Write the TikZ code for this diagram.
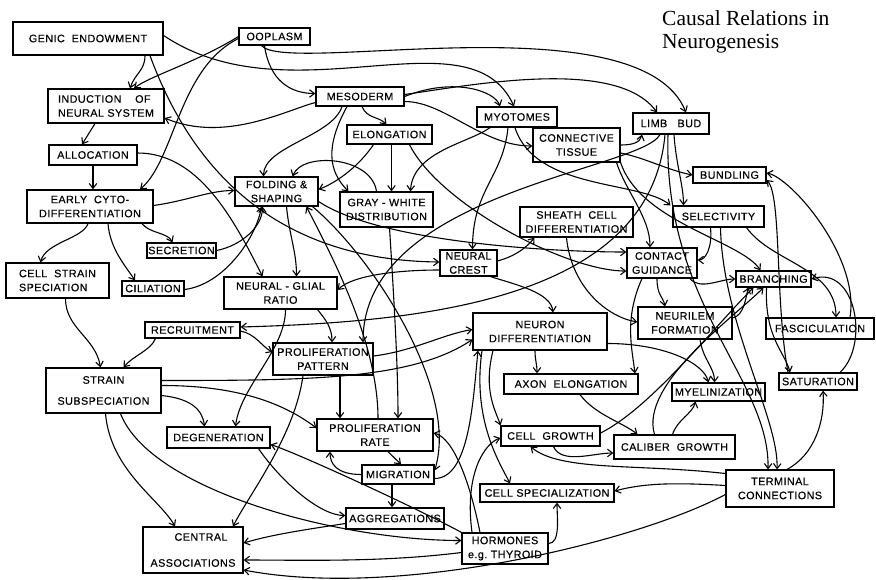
\documentclass[tikz,border=0pt]{standalone}
\usepackage{fontspec}
\usetikzlibrary{arrows.meta}
\newfontfamily\boxfont[LetterSpace=4,FakeBold=0.4]{Liberation Sans}
\newfontfamily\ttlfont{Liberation Serif}
\begin{document}
\begin{tikzpicture}[x=1pt,y=-1pt,
  bx/.style={draw,line width=1.2pt,inner sep=1pt,align=center,
    font=\boxfont\fontsize{10.8}{14}\selectfont},
  ar/.style={line width=1.1pt,-{Straight Barb[length=5pt,width=7.5pt]}},
  ttl/.style={anchor=base west,inner sep=0pt,font=\ttlfont\fontsize{21.5}{24}\selectfont}]
\useasboundingbox (0,0) rectangle (876,579);
% title
\node[ttl] (t1) at (662,25) {Causal Relations in};
\node[ttl] (t2) at (662,48) {Neurogenesis};
% nodes
\node[bx,minimum width=150,minimum height=33] (ge) at (88,38.5) {GENIC\ \ ENDOWMENT};
\node[bx,minimum width=71,minimum height=17] (oop) at (274.5,36.5) {OOPLASM};
\node[bx,minimum width=116,minimum height=34,align=left] (ind) at (106,106) {INDUCTION\ \ \ \ OF\\NEURAL SYSTEM};
\node[bx,minimum width=88,minimum height=20] (alloc) at (93,155) {ALLOCATION};
\node[bx,minimum width=126,minimum height=33] (ecd) at (90,206.5) {EARLY\ \ CYTO-\\DIFFERENTIATION};
\node[bx,minimum width=83,minimum height=29] (fold) at (276.5,191.5) {FOLDING \&\\SHAPING};
\node[bx,minimum width=88,minimum height=19] (meso) at (360,96.5) {MESODERM};
\node[bx,minimum width=85,minimum height=19] (elong) at (389.5,134.5) {ELONGATION};
\node[bx,minimum width=80,minimum height=20] (myo) at (517,117) {MYOTOMES};
\node[bx,minimum width=87,minimum height=34] (ct) at (576.5,145) {CONNECTIVE\\TISSUE};
\node[bx,minimum width=76,minimum height=21] (limb) at (671,123.5) {LIMB\ \ \ BUD};
\node[bx,minimum width=73,minimum height=16] (bund) at (729.5,175) {BUNDLING};
\node[bx,minimum width=93,minimum height=35] (gw) at (386.5,209.5) {GRAY - WHITE\\DISTRIBUTION};
\node[bx,minimum width=113,minimum height=30] (sheath) at (576.5,222) {SHEATH\ \ CELL\\DIFFERENTIATION};
\node[bx,minimum width=91,minimum height=21] (sel) at (718.5,216.5) {SELECTIVITY};
\node[bx,minimum width=69,minimum height=15] (secr) at (181.5,250.5) {SECRETION};
\node[bx,minimum width=103,minimum height=35,align=left] (css) at (57.5,280.5) {CELL\ \ STRAIN\\SPECIATION};
\node[bx,minimum width=62,minimum height=15] (cil) at (153,288.5) {CILIATION};
\node[bx,minimum width=57,minimum height=26] (nc) at (468.5,263) {NEURAL\\CREST};
\node[bx,minimum width=70,minimum height=30] (cg) at (662,263) {CONTACT\\GUIDANCE};
\node[bx,minimum width=75,minimum height=16] (branch) at (773.5,279) {BRANCHING};
\node[bx,minimum width=113,minimum height=32] (ngr) at (280.5,293) {NEURAL - GLIAL\\RATIO};
\node[bx,minimum width=95,minimum height=16] (recr) at (192.5,330) {RECRUITMENT};
\node[bx,minimum width=100,minimum height=32] (pp) at (323,359) {PROLIFERATION\\PATTERN};
\node[bx,minimum width=134,minimum height=37] (nd) at (540,331.5) {NEURON\\DIFFERENTIATION};
\node[bx,minimum width=94,minimum height=32] (neuril) at (685,323) {NEURILEM\\FORMATION};
\node[bx,minimum width=108,minimum height=21] (fasc) at (820,328.5) {FASCICULATION};
\node[bx,minimum width=115,minimum height=45,font=\boxfont\fontsize{10.8}{21}\selectfont] (ss) at (103.5,390.5) {STRAIN\\SUBSPECIATION};
\node[bx,minimum width=134,minimum height=20] (axon) at (571,384) {AXON\ \ ELONGATION};
\node[bx,minimum width=93,minimum height=18] (myel) at (718.5,392) {MYELINIZATION};
\node[bx,minimum width=78,minimum height=17] (sat) at (818,381.5) {SATURATION};
\node[bx,minimum width=103,minimum height=21] (degen) at (218.5,437.5) {DEGENERATION};
\node[bx,minimum width=116,minimum height=32] (pr) at (375,435) {PROLIFERATION\\RATE};
\node[bx,minimum width=99,minimum height=20] (cgro) at (550.5,436) {CELL\ \ GROWTH};
\node[bx,minimum width=121,minimum height=24] (calib) at (674.5,447) {CALIBER\ \ GROWTH};
\node[bx,minimum width=72,minimum height=19] (migr) at (398,474.5) {MIGRATION};
\node[bx,minimum width=134,minimum height=18] (cspec) at (547,493) {CELL\ SPECIALIZATION};
\node[bx,minimum width=108,minimum height=37] (tc) at (780,488.5) {TERMINAL\\CONNECTIONS};
\node[bx,minimum width=98,minimum height=21] (aggr) at (395,518.5) {AGGREGATIONS};
\node[bx,minimum width=100,minimum height=46,align=left,font=\boxfont\fontsize{10.8}{26}\selectfont] (central) at (193,550) {\ \ \ \ \ \ \ CENTRAL\\ASSOCIATIONS};
\node[bx,minimum width=86,minimum height=31] (horm) at (505,548.5) {HORMONES\\e.g.\ THYROID};
% connectors
\draw[ar] ([xshift=57]ge.south) .. controls +(0,15) and +(5,-15) .. ([xshift=24]ind.north);
\draw[ar] (oop.west) .. controls +(-40,25) and +(15,-12) .. ([xshift=28]ind.north);
\draw[ar] ([yshift=-2]oop.west) .. controls +(-60,30) and +(35,-30) .. ([xshift=50]ecd.north);
\draw[ar] ([xshift=-10]oop.south) .. controls +(5,35) and +(-25,0) .. ([yshift=3]meso.west);
\draw[ar] ([yshift=3]ge.east) .. controls +(127,85) and +(-44,-97) .. ([xshift=-3]myo.north);
\draw[ar] ([xshift=-13]oop.south) .. controls +(25,30) and +(-46,-113) .. ([xshift=15]limb.north);
\draw[ar] ([yshift=2]meso.east) .. controls +(70,-10) and +(-40,-55) .. ([xshift=-14]limb.north);
\draw[ar] (meso.east) .. controls +(50,-20) and +(-5,-15) .. ([xshift=-17]myo.north);
\draw[ar] ([yshift=-5]meso.east) .. controls +(40,0) and +(-50,0) .. ([yshift=-1]ct.west);
\draw[ar] ([xshift=2]meso.south) .. controls +(5,12) and +(-8,-8) .. ([xshift=-3]elong.north);
\draw[ar] ([xshift=-18]meso.south) .. controls +(-10,30) and +(0,-30) .. ([xshift=-13]fold.north);
\draw[ar] ([xshift=-13]meso.south) .. controls +(-22,40) and +(-20,-20) .. ([xshift=-38]gw.north);
\draw[ar,{Straight Barb[length=5pt,width=7.5pt]}-] ([yshift=-12]ind.east) .. controls +(60,25) and +(-30,8) .. ([yshift=-6]meso.west);
\draw[ar] ([xshift=-11]ind.south) -- ([xshift=-11]alloc.north |- alloc.north);
\draw[ar] (alloc.south) -- ([xshift=3]ecd.north);
\draw[ar] ([yshift=2]alloc.east) .. controls +(60,0) and +(-30,-60) .. ([xshift=-18]ngr.north);
\draw[ar] ([yshift=1]ecd.east) .. controls +(35,-5) and +(-25,0) .. ([yshift=1]fold.west);
\draw[ar] ([xshift=-2]ecd.south) .. controls +(-5,15) and +(5,-20) .. ([xshift=-17]css.north);
\draw[ar] ([xshift=18]ecd.south) .. controls +(2,25) and +(-10,-15) .. ([xshift=-18]cil.north);
\draw[ar] ([xshift=52]ecd.south) .. controls +(8,10) and +(-5,-10) .. ([xshift=-9]secr.north);
\draw[ar] (secr.east) .. controls +(25,-5) and +(0,20) .. ([xshift=-14]fold.south);
\draw[ar] ([yshift=-1]cil.east) .. controls +(40,-5) and +(-5,30) .. ([xshift=-15]fold.south);
\draw[ar] ([xshift=8]css.south) .. controls +(0,30) and +(-5,-30) .. ([xshift=-3]ss.north);
\draw[ar] ([xshift=-37]recr.south) .. controls +(-5,12) and +(10,-12) .. ([xshift=20]ss.north);
\draw[ar] ([yshift=-1]recr.east) .. controls +(15,3) and +(-10,-5) .. ([yshift=7]pp.west);
\draw[ar] ([xshift=10]fold.south) .. controls +(3,30) and +(0,-25) .. ([xshift=16]ngr.north);
\draw[ar] ([xshift=37]ngr.south) .. controls +(8,10) and +(0,-15) .. ([xshift=9]pp.north);
\draw[ar] ([yshift=-7]nc.west) .. controls +(-40,0) and +(15,-15) .. ([yshift=3]ngr.east);
\draw[ar] ([xshift=62]ge.south) .. controls +(35,95) and +(-180,-2) .. ([yshift=1]nc.west);
\draw[ar] ([xshift=22]nc.south) .. controls +(25,8) and +(-2,-20) .. ([xshift=13]nd.north);
\draw[ar] ([yshift=2]nc.east) .. controls +(18,-5) and +(-8,10) .. ([xshift=-42]sheath.south);
\draw[ar] ([xshift=-9]myo.south) .. controls +(-5,50) and +(0,-60) .. ([xshift=4]nc.north);
\draw[ar] ([xshift=2]elong.south) .. controls +(0,15) and +(0,-20) .. ([xshift=5]gw.north);
\draw[ar] ([xshift=-27]myo.south) .. controls +(-20,15) and +(2,-40) .. ([xshift=24]gw.north);
\draw[ar] ([xshift=-16]elong.south) .. controls +(-10,15) and +(25,-10) .. ([yshift=2]fold.east);
\draw[ar] ([xshift=-10]gw.north) .. controls +(-5,-35) and +(10,-25) .. ([xshift=16]fold.north);
\draw[ar] ([xshift=20]elong.south) .. controls +(30,60) and +(-60,0) .. ([yshift=-8]cg.west);
\draw[ar] ([yshift=-10]fold.east) .. controls +(60,40) and +(-80,0) .. ([yshift=11]cg.west);
\draw[ar] (ct.east) .. controls +(12,0) and +(-2,8) .. ([xshift=-29]limb.south);
\draw[ar] ([yshift=-8]ct.east) .. controls +(25,5) and +(-25,-5) .. (bund.west);
\draw[ar] ([xshift=40]ct.south) .. controls +(10,30) and +(0,-30) .. ([xshift=-12]cg.north);
\draw[ar] ([xshift=-11]limb.south) .. controls +(-20,36) and +(0,-150) .. ([xshift=40]pp.north);
\draw[ar] ([xshift=-6]limb.south) .. controls +(-15,166) and +(180,-5) .. ([yshift=3]recr.east);
\draw[ar] ([yshift=3]pp.east) .. controls +(40,-5) and +(-30,5) .. ([yshift=2]nd.west);
\draw[ar] ([yshift=10]ss.east) .. controls +(150,0) and +(-60,40) .. ([yshift=-8]nd.west);
\draw[ar] ([xshift=17]pp.south) .. controls +(0,15) and +(0,-15) .. ([xshift=-35]pr.north);
\draw[ar] ([xshift=-20]pp.south) .. controls +(-8,60) and +(15,-30) .. ([xshift=40]central.north);
\draw[ar] ([xshift=3]gw.south) .. controls +(5,80) and +(0,-50) .. ([xshift=23]pr.north);
\draw[ar] ([xshift=36]fold.south) .. controls +(60,50) and +(25,-80) .. ([yshift=4]migr.east);
\draw[ar] ([xshift=3]pr.north) .. controls +(0,-80) and +(20,40) .. ([xshift=30]fold.south);
\draw[ar] ([xshift=13]pr.south) -- ([xshift=3]migr.north);
\draw[ar] (migr.west) .. controls +(-25,0) and +(0,12) .. ([xshift=-45]pr.south);
\draw[ar] ([xshift=-6]migr.south) .. controls +(0,10) and +(0,-10) .. ([xshift=-3]aggr.north);
\draw[ar] ([yshift=-4]migr.east) .. controls +(35,0) and +(-5,50) .. ([xshift=-62]nd.south);
\draw[ar] ([xshift=-25]horm.north) .. controls +(-10,-50) and +(20,5) .. ([yshift=2]pr.east);
\draw[ar] ([xshift=-33]horm.north) .. controls +(-8,-60) and +(-15,5) .. ([yshift=-2]cgro.west);
\draw[ar] ([yshift=5]horm.east) .. controls +(12,0) and +(0,15) .. ([xshift=10]cspec.south);
\draw[ar] ([yshift=-4]horm.west) .. controls +(-80,10) and +(60,0) .. ([yshift=-10]central.east);
\draw[ar] ([yshift=-6]tc.west) .. controls +(-86,46) and +(157,30) .. ([yshift=-20]central.east);
\draw[ar] ([yshift=-5]aggr.west) .. controls +(-46,7) and +(27,-8) .. ([yshift=7]central.east);
\draw[ar] ([xshift=2]ss.south) .. controls +(5,57) and +(-15,-27) .. ([xshift=-18]central.north);
\draw[ar] ([xshift=17]ss.south) .. controls +(30,77) and +(-122,0) .. ([yshift=8]horm.west);
\draw[ar] ([yshift=-5]ss.east) .. controls +(29,3) and +(-2,-17) .. ([xshift=-14]degen.north);
\draw[ar] ([yshift=5]ss.east) .. controls +(69,0) and +(-37,-28) .. ([yshift=7]pr.west);
\draw[ar] ([xshift=40]degen.south) .. controls +(22,32) and +(-26,0) .. ([yshift=3]aggr.west);
\draw[ar] (horm.north west) .. controls +(-42,-23) and +(30,10) .. ([yshift=-7]degen.east);
\draw[ar] ([xshift=5]ngr.south) .. controls +(0,40) and +(5,-40) .. ([xshift=17]degen.north);
\draw[ar] ([xshift=-8]sel.south) .. controls +(2,20) and +(8,0) .. ([yshift=3]cg.east);
\draw[ar] ([xshift=2]sel.south) .. controls +(2,95) and +(2,-50) .. ([xshift=-3]tc.north);
\draw[ar] ([xshift=3]limb.south) .. controls +(2,30) and +(0,-20) .. ([xshift=-35]sel.north);
\draw[ar] ([xshift=-3]limb.south) .. controls +(-5,170) and +(2,-90) .. ([xshift=-12]tc.north);
\draw[ar] ([xshift=28]sel.south) .. controls +(25,35) and +(0,-50) .. ([xshift=16]fasc.north);
\draw[ar] ([xshift=30]fasc.north) .. controls +(10,-60) and +(25,5) .. ([yshift=2]bund.east);
\draw[ar] ([xshift=-30]sat.north) .. controls +(-13,-70) and +(15,15) .. ([yshift=-5]bund.east);
\draw[ar] ([xshift=-7]branch.south) .. controls +(-2,50) and +(-5,-20) .. ([xshift=-28]sat.north);
\draw[ar] ([xshift=22]sat.north) .. controls +(30,-28) and +(44,-14) .. (branch.east);
\draw[ar] ([xshift=7]tc.north) .. controls +(28,-15) and +(2,30) .. ([xshift=5]sat.south);
\draw[ar] ([yshift=3]tc.west) .. controls +(-50,-3) and +(30,-8) .. ([yshift=2]cspec.east);
\draw[ar] ([yshift=15]tc.west) .. controls +(-90,-10) and +(30,25) .. ([xshift=-20]cgro.south);
\draw[ar] ([xshift=3]cgro.south) .. controls +(8,18) and +(-20,0) .. ([yshift=-6]calib.west);
\draw[ar] ([xshift=-2]calib.north) .. controls +(5,-15) and +(-3,12) .. ([xshift=-23]myel.south);
\draw[ar] ([xshift=9]axon.south) .. controls +(15,20) and +(-15,-12) .. ([xshift=-37]calib.north);
\draw[ar] ([yshift=3]cgro.east) .. controls +(50,-25) and +(-40,40) .. ([xshift=-20]branch.south);
\draw[ar] ([xshift=-20]calib.north) .. controls +(-15,-50) and +(-30,30) .. ([xshift=-10]branch.south);
\draw[ar] ([yshift=5]neuril.east) .. controls +(12,-3) and +(-3,10) .. ([xshift=-25]branch.south);
\draw[ar] ([xshift=-5]nd.south) .. controls +(0,10) and +(0,-10) .. ([xshift=-34]axon.north);
\draw[ar] ([xshift=-47]nd.south) .. controls +(-10,40) and +(-5,-15) .. ([xshift=-50]cgro.north);
\draw[ar] ([xshift=-58]nd.south) .. controls +(-10,70) and +(-10,-20) .. ([xshift=-37]cspec.north);
\draw[ar] ([yshift=-12]nd.east) .. controls +(55,0) and +(-5,-20) .. ([xshift=-10]myel.north);
\draw[ar] ([xshift=-5]cg.south) .. controls +(0,17) and +(-2,-10) .. ([xshift=-20]neuril.north);
\draw[ar] ([xshift=-20]cg.south) .. controls +(-18,40) and +(-3,-25) .. ([xshift=64]axon.north);
\draw[ar] ([xshift=28]cg.south) .. controls +(10,12) and +(-15,0) .. (branch.west);
\draw[ar] ([xshift=15]neuril.south) .. controls +(3,20) and +(0,-15) .. ([xshift=-4]myel.north);
\draw[ar] ([xshift=-10]sheath.south) .. controls +(5,50) and +(-30,-5) .. ([yshift=1]neuril.west);
\draw[ar] ([xshift=-2]myo.south) .. controls +(20,63) and +(-30,-25) .. ([xshift=-48]sel.north);
\draw[ar] (ct.south east) .. controls +(20,60) and +(-20,-30) .. ([xshift=-13]branch.north);
\end{tikzpicture}
\end{document}
